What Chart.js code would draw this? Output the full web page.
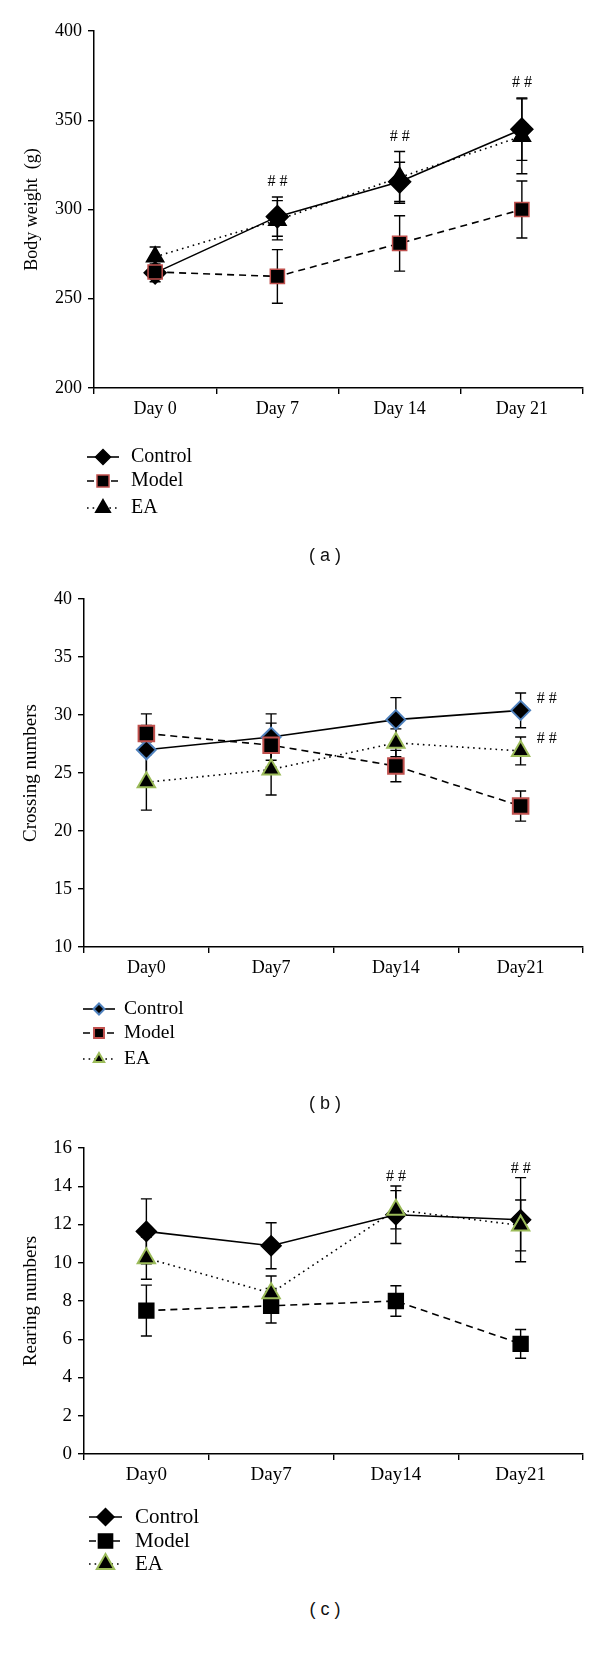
<!DOCTYPE html>
<html>
<head>
<meta charset="utf-8">
<script src="https://cdn.jsdelivr.net/npm/chart.js@4.4.1/dist/chart.umd.min.js"></script>
<style>
  body { margin: 0; background: #fff; width: 600px; height: 1668px; position: relative; overflow: hidden; }
  canvas { position: absolute; left: 0; }
  .cap { position: absolute; font-family: "Liberation Sans", Arial, sans-serif; font-size: 18px; color: #111;
         transform: translate(-50%, -50%); white-space: pre; }
</style>
</head>
<body>
<canvas id="chartA" width="600" height="535" style="top:0"></canvas>
<canvas id="chartB" width="600" height="520" style="top:560px"></canvas>
<canvas id="chartC" width="600" height="485" style="top:1100px"></canvas>
<div class="cap" style="left:325px;top:555px">( a )</div>
<div class="cap" style="left:325px;top:1103px">( b )</div>
<div class="cap" style="left:325px;top:1609px">( c )</div>

<script>
// Data
const daysA = ['Day 0', 'Day 7', 'Day 14', 'Day 21'];
const daysBC = ['Day0', 'Day7', 'Day14', 'Day21'];

// (a) body weight (g)
const weightControl = [264.5, 296, 315.5, 345];
const weightControlSd = [5, 11, 11, 17.5];
const weightModel = [265, 262.5, 281, 300];
const weightModelSd = [3, 15, 15.5, 16];
const weightEA = [273.5, 294, 318, 341];
const weightEASd = [5.5, 11, 14.5, 21];
const weightSig = [1, 2, 3];

// (b) crossing numbers
const crossControl = [27.0, 28.1, 29.6, 30.4];
const crossControlSd = [3.1, 2.0, 1.9, 1.5];
const crossModel = [28.4, 27.4, 25.6, 22.15];
const crossModelSd = [0.7, 1.9, 1.35, 1.3];
const crossEA = [24.2, 25.3, 27.6, 26.9];
const crossEASd = [2.4, 2.2, 1.2, 1.2];
const crossSigControl = [3];
const crossSigEA = [3];

// (c) rearing numbers
const rearControl = [11.64, 10.89, 12.51, 12.25];
const rearControlSd = [1.7, 1.2, 1.5, 2.2];
const rearModel = [7.5, 7.75, 8.0, 5.76];
const rearModelSd = [1.33, 0.9, 0.8, 0.75];
const rearEA = [10.24, 8.41, 12.77, 11.95];
const rearEASd = [1.1, 0.9, 1.0, 1.33];
const rearSig = [2, 3];

const SERIF = '"Liberation Serif", "Times New Roman", serif';
const RED = '#c0504d';
const BLUE = '#4f81bd';
const GREEN = '#9bbb59';

// error bars drawn behind the lines and markers
const errorBars = {
  id: 'errorBars',
  beforeDatasetsDraw(chart) {
    const ctx = chart.ctx;
    const ys = chart.scales.y;
    ctx.save();
    ctx.strokeStyle = '#000';
    ctx.lineWidth = 1.4;
    chart.data.datasets.forEach((ds, i) => {
      chart.getDatasetMeta(i).data.forEach((pt, j) => {
        const hi = ys.getPixelForValue(ds.data[j] + ds.sd[j]);
        const lo = ys.getPixelForValue(ds.data[j] - ds.sd[j]);
        ctx.beginPath();
        ctx.moveTo(pt.x, hi); ctx.lineTo(pt.x, lo);
        ctx.moveTo(pt.x - 5.5, hi); ctx.lineTo(pt.x + 5.5, hi);
        ctx.moveTo(pt.x - 5.5, lo); ctx.lineTo(pt.x + 5.5, lo);
        ctx.stroke();
      });
    });
    ctx.restore();
  }
};

// "# #" marks
const sigMarks = {
  id: 'sigMarks',
  afterDatasetsDraw(chart, args, opts) {
    const ctx = chart.ctx;
    const xs = chart.scales.x, ys = chart.scales.y;
    ctx.save();
    ctx.fillStyle = '#000';
    ctx.font = '16px ' + SERIF;
    ctx.textAlign = 'center';
    ctx.textBaseline = 'middle';
    const sets = chart.data.datasets;
    sets.forEach((ds, i) => {
      (ds.sig || []).forEach(j => {
        let x = xs.getPixelForValue(j), y;
        if (opts.mode === 'right') {
          x += 26;
          y = ys.getPixelForValue(ds.data[j]) - 12;
        } else {
          const top = Math.max(...sets.map(d => d.data[j] + d.sd[j]));
          y = ys.getPixelForValue(top) - opts.gap;
        }
        ctx.fillText('# #', x, y);
      });
    });
    ctx.restore();
  }
};

// legend under the plot: line sample + marker + name
const sideLegend = {
  id: 'sideLegend',
  afterDraw(chart, args, opts) {
    const ctx = chart.ctx;
    ctx.save();
    chart.data.datasets.forEach((ds, i) => {
      const y = opts.rows[i];
      ctx.strokeStyle = '#000';
      ctx.lineWidth = 1.6;
      ctx.setLineDash(ds.borderDash || []);
      ctx.beginPath();
      ctx.moveTo(opts.x1, y); ctx.lineTo(opts.x2, y);
      ctx.stroke();
      ctx.setLineDash([]);
      ctx.fillStyle = ds.pointBackgroundColor;
      ctx.strokeStyle = ds.pointBorderColor;
      ctx.lineWidth = ds.pointBorderWidth;
      Chart.helpers.drawPoint(ctx, {
        pointStyle: ds.pointStyle, radius: opts.radius[i], rotation: 0, borderWidth: ds.pointBorderWidth
      }, (opts.x1 + opts.x2) / 2, y);
      ctx.fillStyle = '#000';
      ctx.font = opts.size + 'px ' + SERIF;
      ctx.textBaseline = 'middle';
      ctx.fillText(ds.label, opts.tx, y);
    });
    ctx.restore();
  }
};

function series(label, data, sd, style) {
  return Object.assign({
    label: label, data: data, sd: sd,
    borderColor: '#000', borderWidth: 1.6, fill: false, tension: 0,
    pointBackgroundColor: '#000', pointBorderColor: '#000', pointBorderWidth: 1.5,
    borderCapStyle: 'butt'
  }, style);
}

function makePanel(id, p) {
  const canvas = document.getElementById(id);
  const H = canvas.height;
  const toLocal = v => v - p.top;
  return new Chart(canvas, {
    type: 'line',
    data: { labels: p.labels, datasets: p.datasets },
    options: {
      responsive: false,
      animation: false,
      devicePixelRatio: 1,
      layout: {
        padding: {
          left: 0,
          right: 600 - p.plotRight,
          top: toLocal(p.plotTop),
          bottom: H - toLocal(p.plotBottom) - 40
        }
      },
      plugins: {
        legend: { display: false },
        tooltip: { enabled: false },
        sigMarks: { mode: p.sigMode, gap: p.sigGap },
        sideLegend: {
          rows: p.legendRows.map(toLocal), x1: p.legendX[0], x2: p.legendX[1], tx: p.legendX[2],
          size: p.legendSize, radius: p.legendRadius
        }
      },
      scales: {
        x: {
          offset: true,
          grid: { offset: true, drawOnChartArea: false, tickLength: 6, color: '#000', lineWidth: 1.4 },
          border: { color: '#000', width: 1.5 },
          ticks: { color: '#000', font: { family: SERIF, size: p.tickSize }, padding: 4, maxRotation: 0, autoSkip: false },
          afterFit: s => { s.height = 40; }
        },
        y: {
          min: p.yMin, max: p.yMax,
          grid: { drawOnChartArea: false, tickLength: 6, color: '#000', lineWidth: 1.4 },
          border: { color: '#000', width: 1.5 },
          ticks: { stepSize: p.yStep, color: '#000', font: { family: SERIF, size: p.tickSize }, padding: 6 },
          title: { display: true, text: p.yTitle, color: '#000', font: { family: SERIF, size: p.titleSize }, padding: { top: p.titleX - p.titleSize * 0.6, bottom: 0 } },
          afterFit: s => { s.width = p.plotLeft; }
        }
      }
    },
    plugins: [errorBars, sigMarks, sideLegend]
  });
}

// order: EA drawn on top, then Model, then Control (as in the source figure)
makePanel('chartA', {
  top: 0, labels: daysA,
  plotLeft: 94, plotRight: 583, plotTop: 31, plotBottom: 388,
  yMin: 200, yMax: 400, yStep: 50, yTitle: 'Body weight  (g)',
  tickSize: 18, titleSize: 18, titleX: 32,
  sigMode: 'above', sigGap: 15,
  legendRows: [457, 481, 508], legendX: [87, 119, 131], legendSize: 20, legendRadius: [7.5, 8.5, 8.5],
  datasets: [
    series('Control', weightControl, weightControlSd, { order: 2, pointStyle: 'rectRot', pointRadius: 11, sig: weightSig }),
    series('Model', weightModel, weightModelSd, { order: 1, pointStyle: 'rect', pointRadius: 10, borderDash: [7, 5], pointBorderColor: RED }),
    series('EA', weightEA, weightEASd, { order: 0, pointStyle: 'triangle', pointRadius: 10, borderDash: [1.6, 4] })
  ]
});

makePanel('chartB', {
  top: 560, labels: daysBC,
  plotLeft: 84, plotRight: 583, plotTop: 599, plotBottom: 947,
  yMin: 10, yMax: 40, yStep: 5, yTitle: 'Crossing numbers',
  tickSize: 18, titleSize: 19, titleX: 31,
  sigMode: 'right',
  legendRows: [1009, 1033, 1059], legendX: [83, 115, 124], legendSize: 19.5, legendRadius: [5.5, 7, 6],
  datasets: [
    series('Control', crossControl, crossControlSd, { order: 2, pointStyle: 'rectRot', pointRadius: 9.5, pointBorderColor: BLUE, pointBorderWidth: 2, sig: crossSigControl }),
    series('Model', crossModel, crossModelSd, { order: 1, pointStyle: 'rect', pointRadius: 11, borderDash: [7, 5], pointBorderColor: RED, pointBorderWidth: 2 }),
    series('EA', crossEA, crossEASd, { order: 0, pointStyle: 'triangle', pointRadius: 10, borderDash: [1.6, 4], pointBorderColor: GREEN, pointBorderWidth: 2, sig: crossSigEA })
  ]
});

makePanel('chartC', {
  top: 1100, labels: daysBC,
  plotLeft: 84, plotRight: 583, plotTop: 1148, plotBottom: 1454,
  yMin: 0, yMax: 16, yStep: 2, yTitle: 'Rearing numbers',
  tickSize: 19, titleSize: 19, titleX: 31,
  sigMode: 'above', sigGap: 9,
  legendRows: [1517, 1541, 1564], legendX: [89, 122, 135], legendSize: 21, legendRadius: [8.5, 10, 10],
  datasets: [
    series('Control', rearControl, rearControlSd, { order: 2, pointStyle: 'rectRot', pointRadius: 10, sig: rearSig }),
    series('Model', rearModel, rearModelSd, { order: 1, pointStyle: 'rect', pointRadius: 10.5, borderDash: [7, 5] }),
    series('EA', rearEA, rearEASd, { order: 0, pointStyle: 'triangle', pointRadius: 10, borderDash: [1.6, 4], pointBorderColor: GREEN, pointBorderWidth: 2 })
  ]
});
</script>
</body>
</html>
